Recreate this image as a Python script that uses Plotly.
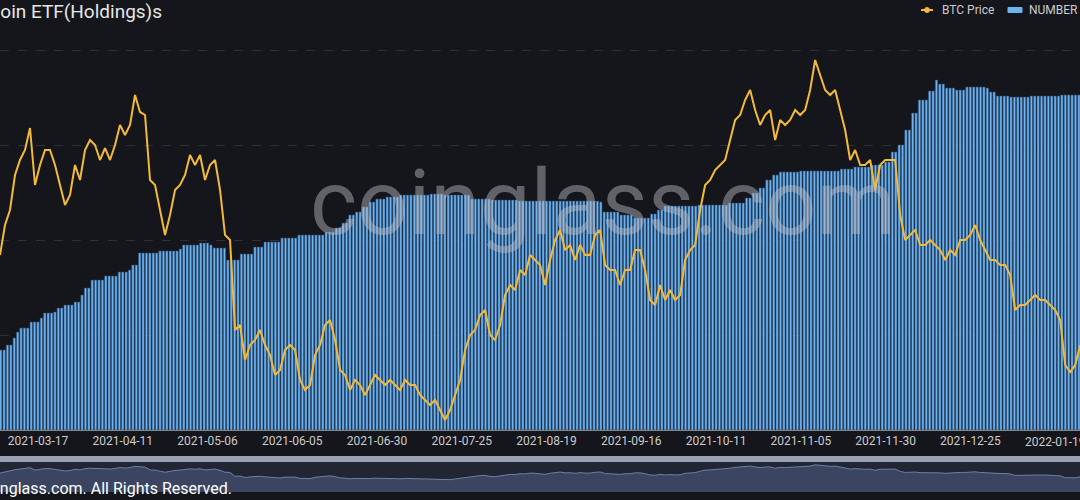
import pandas as pd
import plotly.graph_objects as go

# BTC price, sampled roughly every 35.4 hours from the left edge
btc_price = [47290,50470,52060,55770,57360,58420,60750,54710,56830,58420,58420,56830,54710,52590,53650,56830,55240,58420,59480,58950,
57360,58630,57360,58950,61070,60010,61070,64250,62450,62130,55240,54710,52060,49410,51530,54180,54710,55770,57890,56830,
57890,55240,56830,57360,54180,49410,48880,39340,39870,36160,37750,38280,39340,37750,36690,34570,35100,37220,37750,37220,
34040,32980,33510,36690,37750,39870,40400,38280,35100,34570,32980,34040,33510,32450,33510,34570,34040,33510,34040,33510,
32980,34040,33510,33510,32450,31920,31390,31920,30860,29800,30860,32450,34040,37220,38810,39340,40930,41460,38810,38280,
39870,43050,44110,43580,45700,45170,47290,46760,46230,44110,46760,48880,49940,47820,48350,46760,48350,47290,47290,49410,
49940,46230,45700,45700,44110,45700,45700,47820,47820,45700,42520,41990,44110,42520,43580,42520,43050,46760,47820,48350,
52060,54710,55240,56300,56830,57360,59480,61600,62130,63720,64780,62660,61070,62130,62660,59480,61600,61070,61600,62660,
62130,62660,64780,67960,66370,64780,64250,64780,62660,60540,57360,58420,56830,56830,57360,54180,56830,57360,57360,57360,
51530,48880,49410,49940,48350,48350,48880,48350,47820,46760,47820,47290,48880,48880,49410,50470,48880,47820,46760,46760,
46230,46230,45170,41460,41990,41990,42520,43050,42520,42520,41990,41460,40400,35630,34890,35630,37750]

# Holdings (thousand BTC): day offset where a level starts, and the level
hold_start_day = [0,2,4,5,6,9,12,13,16,17,19,22,24,25,27,31,35,38,39,41,47,53,54,59,62,63,67,71,75,78,83,88,96,99,101,103,105,107,109,111,114,118,127,131,139,145,153,177,178,183,187,192,194,196,206,215,220,222,224,226,228,230,236,248,252,257,261,263,265,267,269,271,274,276,277,279,282,285,291,292,294,298,304,313]
hold_level = [80,85,92,98,102,108,112,117,118,122,125,128,135,142,150,154,158,160,165,177,179,181,185,187,185,182,170,176,183,188,192,195,198,202,207,215,218,223,228,231,233,235,236,235,231,230,229,228,218,215,212,216,220,224,225,227,232,237,242,250,255,258,259,261,263,265,268,278,285,300,317,330,339,350,346,342,340,343,342,338,334,333,334,335]

# x-axis tick labels as printed on the chart
tick_labels = ["2021-03-17","2021-04-11","2021-05-06","2021-06-05","2021-06-30","2021-07-25","2021-08-19",
               "2021-09-16","2021-10-11","2021-11-05","2021-11-30","2021-12-25","2022-01-19"]

START = pd.Timestamp("2021-03-05 19:00")
END = pd.Timestamp("2022-01-18 08:00")
price_dates = pd.date_range(START, periods=len(btc_price), freq="35h24min")
days = pd.date_range("2021-03-06", "2022-01-18", freq="D")
holdings = []
for i in range(len(days)):
    lvl = hold_level[0]
    for s, v in zip(hold_start_day, hold_level):
        if i >= s:
            lvl = v
    holdings.append(lvl)

tick_pos = pd.date_range("2021-03-17", periods=len(tick_labels), freq="25D")

fig = go.Figure()
fig.add_trace(go.Bar(x=days, y=holdings, name="NUMBER OF BITCOIN", marker=dict(color="#6cb4f2", line=dict(color="#2c4a6e", width=0.6)), yaxis="y"))
fig.add_trace(go.Scatter(x=price_dates, y=btc_price, name="BTC Price", mode="lines", line=dict(color="#f2b93b", width=2), yaxis="y2"))
fig.add_trace(go.Scatter(x=price_dates, y=btc_price, mode="lines", fill="tozeroy", line=dict(color="#6d7fa6", width=1), fillcolor="#3b4561", xaxis="x3", yaxis="y3"))

fig.update_layout(
    width=1080, height=500, margin=dict(l=0, r=0, t=0, b=0),
    paper_bgcolor="#15161b", plot_bgcolor="#15161b",
    bargap=0.3, showlegend=False,
    xaxis=dict(range=[START, END], tickvals=tick_pos, ticktext=tick_labels, tickfont=dict(color="#cccccc", size=12, family="Roboto"), showgrid=False, showline=True, linecolor="#888888", ticks="", anchor="y"),
    yaxis=dict(domain=[0.14, 1], range=[0, 430], tick0=0, dtick=95, showticklabels=False, gridcolor="#2e3036", griddash="dash", zeroline=False),
    yaxis2=dict(overlaying="y", range=[28740, 74320], showgrid=False, showticklabels=False, zeroline=False),
    xaxis3=dict(domain=[0, 1], range=[START, END], anchor="y3", showticklabels=False, showgrid=False),
    yaxis3=dict(domain=[0.016, 0.076], range=[0, 75000], showticklabels=False, showgrid=False, zeroline=False),
    font=dict(family="Roboto"),
)
# last tick label sits past the right edge of the range, so it is placed as an annotation
fig.add_annotation(text=tick_labels[-1], x=tick_pos[-1], xref="x", y=1-442/500, yref="paper", xanchor="center", yanchor="middle", showarrow=False, font=dict(color="#cccccc", size=12, family="Roboto"))
fig.add_shape(type="rect", xref="paper", yref="paper", x0=0, x1=1, y0=0.076, y1=0.088, fillcolor="#9aa3b3", line_width=0)
fig.add_shape(type="rect", xref="paper", yref="paper", x0=0, x1=1, y0=0.016, y1=0.076, fillcolor="rgba(60,70,95,0.35)", line_width=0, layer="below")
# legend drawn by hand so it can run off the right edge like the reference
fig.add_shape(type="line", xref="paper", yref="paper", x0=921/1080, x1=933/1080, y0=1-10/500, y1=1-10/500, line=dict(color="#f2b93b", width=2))
fig.add_shape(type="circle", xref="paper", yref="paper", x0=924.5/1080, x1=929.5/1080, y0=1-12.5/500, y1=1-7.5/500, fillcolor="#f2b93b", line=dict(color="#f2b93b", width=1))
fig.add_annotation(text="BTC Price", x=940/1080, y=1-10/500, xref="paper", yref="paper", xanchor="left", yanchor="middle", showarrow=False, font=dict(size=12, color="#cccccc", family="Roboto"))
fig.add_shape(type="rect", xref="paper", yref="paper", x0=1008/1080, x1=1022/1080, y0=1-12.5/500, y1=1-7.5/500, fillcolor="#6cb4f2", line=dict(color="#6cb4f2", width=1))
fig.add_annotation(text="NUMBER OF BITCOIN", x=1027/1080, y=1-10/500, xref="paper", yref="paper", xanchor="left", yanchor="middle", showarrow=False, font=dict(size=12, color="#cccccc", family="Roboto"))
fig.add_annotation(text="coinglass.com", x=602/1080, y=1-203/500, xref="paper", yref="paper", showarrow=False, font=dict(size=90, color="rgba(190,190,200,0.45)", family="Roboto"))
fig.add_annotation(text="Grayscale Bitcoin ETF(Holdings)s", x=164/1080, y=1-11/500, xref="paper", yref="paper", xanchor="right", yanchor="middle", showarrow=False, font=dict(size=19, color="#e6e6e6", family="Roboto"))
fig.add_annotation(text="© 2022 coinglass.com. All Rights Reserved.", x=234/1080, y=1-488/500, xref="paper", yref="paper", xanchor="right", yanchor="middle", showarrow=False, font=dict(size=16, color="#ffffff", family="Roboto"))
fig.write_html("out.html", config={"displayModeBar": False})
with open("out.html", encoding="utf-8") as f:
    html = f.read()
html = html.replace("<head>", "<head><style>html,body{margin:0;padding:0;background:#15161b;overflow:hidden}</style>", 1)
with open("out.html", "w", encoding="utf-8") as f:
    f.write(html)
